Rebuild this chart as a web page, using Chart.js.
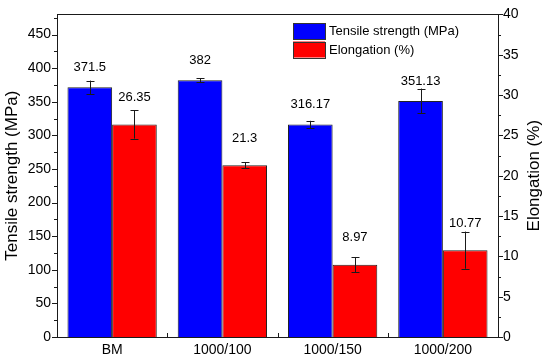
<!DOCTYPE html>
<html>
<head>
<meta charset="utf-8">
<script src="https://cdn.jsdelivr.net/npm/chart.js@4.4.1/dist/chart.umd.min.js"></script>
<style>
html,body{margin:0;padding:0;background:#fff;}
#wrap{width:550px;height:361px;}
</style>
</head>
<body>
<div id="wrap"><canvas id="c" width="550" height="361"></canvas></div>
<script>
const categories = ['BM', '1000/100', '1000/150', '1000/200'];
const tensile = [371.5, 382, 316.17, 351.13];
const tensileErr = [10, 3, 5.5, 18.5];
const tensileLabels = ['371.5', '382', '316.17', '351.13'];
const elongation = [26.35, 21.3, 8.97, 10.77];
const elongationErr = [1.75, 0.35, 0.95, 2.3];
const elongationLabels = ['26.35', '21.3', '8.97', '10.77'];
const leftTicks = [0, 50, 100, 150, 200, 250, 300, 350, 400, 450];
const rightTicks = [0, 5, 10, 15, 20, 25, 30, 35, 40];

const FONT = "'Liberation Sans', Arial, sans-serif";
Chart.defaults.font.family = FONT;
Chart.defaults.color = '#000';

const errs = [tensileErr, elongationErr];
const valLabels = [tensileLabels, elongationLabels];
const labelOffsets = [20, 27];

const decor = {
  id: 'decor',
  afterDatasetsDraw(chart) {
    const ctx = chart.ctx;
    const a = chart.chartArea;
    const y = chart.scales.y, y1 = chart.scales.y1, x = chart.scales.x;
    ctx.save();
    ctx.strokeStyle = '#1a1a1a';
    ctx.lineWidth = 1;
    chart.data.datasets.forEach((ds, di) => {
      const meta = chart.getDatasetMeta(di);
      const sc = di === 0 ? y : y1;
      meta.data.forEach((bar, i) => {
        const v = ds.data[i], e = errs[di][i];
        const cx = Math.round(bar.x) + 0.5;
        const top = sc.getPixelForValue(v + e), bot = sc.getPixelForValue(v - e);
        ctx.beginPath();
        ctx.moveTo(cx, top); ctx.lineTo(cx, bot);
        ctx.moveTo(cx - 4, Math.round(top) + 0.5); ctx.lineTo(cx + 4, Math.round(top) + 0.5);
        ctx.moveTo(cx - 4, Math.round(bot) + 0.5); ctx.lineTo(cx + 4, Math.round(bot) + 0.5);
        ctx.stroke();
        ctx.fillStyle = '#000';
        ctx.font = '13px ' + FONT;
        ctx.textAlign = 'center';
        ctx.textBaseline = 'middle';
        ctx.fillText(valLabels[di][i], bar.x, sc.getPixelForValue(v) - labelOffsets[di]);
      });
    });
    ctx.strokeStyle = '#1a1a1a';
    ctx.strokeRect(Math.round(a.left) + 0.5, Math.round(a.top) + 0.5, Math.round(a.right - a.left), Math.round(a.bottom - a.top));
    ctx.beginPath();
    for (let v = 0; v <= 475; v += 25) {
      const py = Math.round(y.getPixelForValue(v)) + 0.5;
      const len = v % 50 === 0 ? 5 : 3;
      ctx.moveTo(a.left, py); ctx.lineTo(a.left - len, py);
    }
    for (let v = 0; v <= 40; v += 2.5) {
      const py = Math.round(y1.getPixelForValue(v)) + 0.5;
      const len = v % 5 === 0 ? 5 : 3;
      ctx.moveTo(a.right, py); ctx.lineTo(a.right + len, py);
    }
    for (let i = 0; i < categories.length - 1; i++) {
      const px = Math.round((x.getPixelForValue(i) + x.getPixelForValue(i + 1)) / 2) + 0.5;
      ctx.moveTo(px, a.bottom); ctx.lineTo(px, a.bottom - 4);
    }
    ctx.stroke();
    // right axis title, reading bottom to top
    ctx.save();
    ctx.translate(534, (a.top + a.bottom) / 2);
    ctx.rotate(-Math.PI / 2);
    ctx.fillStyle = '#000';
    ctx.font = '17px ' + FONT;
    ctx.textAlign = 'center';
    ctx.textBaseline = 'middle';
    ctx.fillText('Elongation (%)', 0, 0);
    ctx.restore();
    // legend
    const items = [['Tensile strength (MPa)', '#0000ff'], ['Elongation (%)', '#ff0000']];
    items.forEach((it, k) => {
      const bx = 293, by = 23 + k * 18.5;
      ctx.fillStyle = it[1];
      ctx.fillRect(bx, by, 32, 16);
      ctx.strokeStyle = '#333';
      ctx.strokeRect(bx + 0.5, Math.round(by) + 0.5, 32, 16);
      ctx.fillStyle = '#000';
      ctx.font = '13px ' + FONT;
      ctx.textAlign = 'left';
      ctx.textBaseline = 'middle';
      ctx.fillText(it[0], 329, by + 8.5);
    });
    ctx.restore();
  }
};

new Chart(document.getElementById('c'), {
  type: 'bar',
  data: {
    labels: categories,
    datasets: [
      { label: 'Tensile strength (MPa)', data: tensile, yAxisID: 'y', backgroundColor: '#0000ff', borderColor: '#222222', borderWidth: 1, categoryPercentage: 0.81, barPercentage: 1.0 },
      { label: 'Elongation (%)', data: elongation, yAxisID: 'y1', backgroundColor: '#ff0000', borderColor: '#222222', borderWidth: 1, categoryPercentage: 0.81, barPercentage: 1.0 }
    ]
  },
  options: {
    responsive: false,
    animation: false,
    layout: { padding: { top: 13, left: 0, right: 0, bottom: 0 } },
    plugins: { legend: { display: false }, tooltip: { enabled: false } },
    scales: {
      x: {
        grid: { display: false, drawTicks: false },
        border: { display: false },
        ticks: { font: { size: 14 }, padding: 5, color: '#000' },
        afterFit(s) { s.height = 24; }
      },
      y: {
        position: 'left', min: 0, max: 480,
        grid: { display: false, drawTicks: false },
        border: { display: false },
        ticks: { font: { size: 14 }, padding: 6, color: '#000' },
        afterBuildTicks(s) { s.ticks = leftTicks.map(v => ({ value: v })); },
        title: { display: true, text: 'Tensile strength (MPa)', font: { size: 17 }, color: '#000', padding: { top: 2, bottom: 0 } },
        afterFit(s) { s.width = 57; }
      },
      y1: {
        position: 'right', min: 0, max: 40,
        grid: { display: false, drawTicks: false },
        border: { display: false },
        ticks: { font: { size: 14 }, padding: 5, color: '#000' },
        afterBuildTicks(s) { s.ticks = rightTicks.map(v => ({ value: v })); },
        afterFit(s) { s.width = 52; }
      }
    }
  },
  plugins: [decor]
});
</script>
</body>
</html>
